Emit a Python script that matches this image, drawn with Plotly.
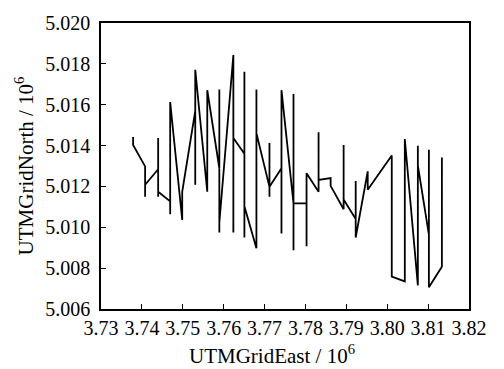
import plotly.graph_objects as go

# Path of the UTM track (units of 10^6 m)
utm_east = [
    3.73785, 3.73785, 3.74079, 3.74079, 3.74079, 3.74398, 3.74398, 3.74398, 3.74398,
    3.74692, 3.74692, 3.74692, 3.74986, 3.74986, 3.75305, 3.75305, 3.75305, 3.75599,
    3.75599, 3.75894, 3.75894, 3.75894, 3.75894, 3.76237, 3.76237, 3.76237, 3.76507,
    3.76507, 3.76507, 3.76507, 3.76801, 3.76801, 3.76801, 3.77120, 3.77120, 3.77120,
    3.77120, 3.77414, 3.77414, 3.77414, 3.77708, 3.77708, 3.77708, 3.77708, 3.78027,
    3.78027, 3.78027, 3.78321, 3.78321, 3.78321, 3.78616, 3.78616, 3.78934, 3.78934,
    3.78934, 3.79229, 3.79229, 3.79229, 3.79523, 3.79523, 3.80111, 3.80111, 3.80430,
    3.80430, 3.80749, 3.80749, 3.80749, 3.81019, 3.81019, 3.81019, 3.81337, 3.81337,
]
utm_north = [
    5.01442, 5.01403, 5.01298, 5.01150, 5.01208, 5.01284, 5.01437, 5.01150, 5.01174,
    5.01127, 5.01064, 5.01613, 5.01036, 5.01174, 5.01570, 5.01208, 5.01771, 5.01174,
    5.01671, 5.01289, 5.01675, 5.00974, 5.01022, 5.01843, 5.00974, 5.01437, 5.01360,
    5.01761, 5.00950, 5.01103, 5.00897, 5.01675, 5.01461, 5.01198, 5.01413, 5.01150,
    5.01198, 5.01289, 5.00969, 5.01671, 5.01117, 5.01652, 5.00888, 5.01117, 5.01117,
    5.00907, 5.01265, 5.01174, 5.01465, 5.01232, 5.01241, 5.01203, 5.01088, 5.01403,
    5.01136, 5.01041, 5.01227, 5.00950, 5.01274, 5.01184, 5.01351, 5.00759, 5.00735,
    5.01432, 5.00716, 5.01399, 5.01303, 5.00964, 5.01379, 5.00706, 5.00807, 5.01341,
]

x_title = "UTMGridEast / 10<sup>6</sup>"
y_title = "UTMGridNorth / 10<sup>6</sup>"

fig = go.Figure()
fig.add_trace(go.Scatter(x=utm_east, y=utm_north, mode="lines",
                         line=dict(color="black", width=1.8), showlegend=False))

font = dict(family="Liberation Serif", size=20, color="black")
title_font = dict(family="Liberation Serif", size=21, color="black")
fig.update_layout(
    width=504, height=369,
    margin=dict(l=101, r=35, t=18, b=60),
    paper_bgcolor="white", plot_bgcolor="white",
    font=font,
)
fig.update_xaxes(
    range=[3.73, 3.82], dtick=0.01, tick0=3.73, tickformat=".2f",
    showgrid=False, zeroline=False,
    showline=True, linecolor="black", linewidth=1.5, mirror=True,
    ticks="inside", ticklen=5, tickcolor="black", tickwidth=1,
)
fig.update_yaxes(
    range=[5.006, 5.020], dtick=0.002, tick0=5.006, tickformat=".3f",
    showgrid=False, zeroline=False,
    showline=True, linecolor="black", linewidth=1.5, mirror=True,
    ticks="inside", ticklen=5, tickcolor="black", tickwidth=1,
    ticklabelstandoff=5,
    title=dict(text=y_title, font=title_font, standoff=6),
)
fig.add_annotation(
    text=x_title, xref="paper", yref="paper", x=0.465, y=-0.158,
    xanchor="center", yanchor="middle", showarrow=False, font=title_font,
)

fig.write_html("out.html")
